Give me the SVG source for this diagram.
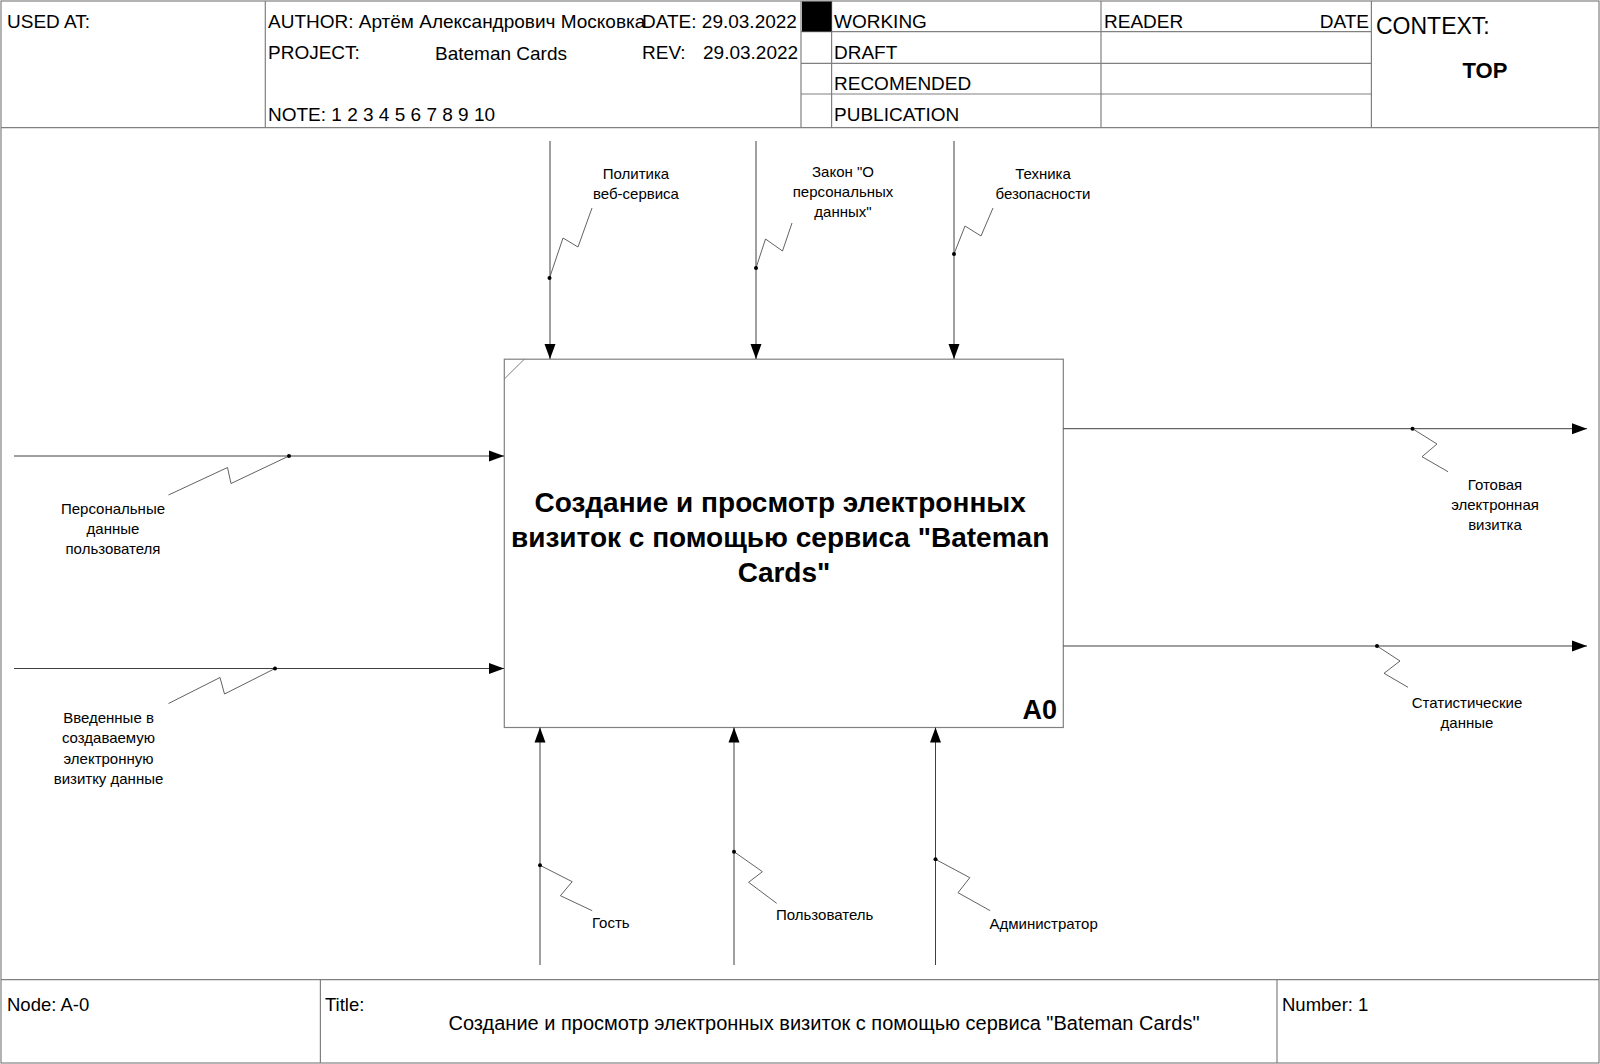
<svg xmlns="http://www.w3.org/2000/svg" width="1600" height="1064" viewBox="0 0 1600 1064">
<style>
  .frame { fill: none; stroke: #808080; stroke-width: 1.2; }
  .t { font-family: "Liberation Sans", Arial, sans-serif; font-size: 19px; fill: #000; }
  .lbl { font-family: "Liberation Sans", Arial, sans-serif; font-size: 15px; fill: #000; text-anchor: middle; }
  .lbl-l { font-family: "Liberation Sans", Arial, sans-serif; font-size: 15px; fill: #000; }
  .arrow { fill: none; stroke: #404040; stroke-width: 1; marker-end: url(#ah); }
  .sq { fill: none; stroke: #505050; stroke-width: 0.9; }
  .dot { fill: #000; }
</style>
<defs>
  <marker id="ah" markerWidth="16" markerHeight="12" refX="15" refY="6" orient="auto" markerUnits="userSpaceOnUse">
    <path d="M0,0.5 L15,6 L0,11.5 Z" fill="#000"/>
  </marker>
</defs>
<rect x="0" y="0" width="1600" height="1064" fill="#fff"/>

<g id="header">
  <rect class="frame" x="1" y="1" width="1598" height="1062"/>
  <line class="frame" x1="1" y1="127.6" x2="1599" y2="127.6"/>
  <line class="frame" x1="265.3" y1="1" x2="265.3" y2="127.6"/>
  <line class="frame" x1="801" y1="1" x2="801" y2="127.6"/>
  <line class="frame" x1="831.6" y1="1" x2="831.6" y2="127.6"/>
  <line class="frame" x1="1101" y1="1" x2="1101" y2="127.6"/>
  <line class="frame" x1="1371.4" y1="1" x2="1371.4" y2="127.6"/>
  <line class="frame" x1="801" y1="31.6" x2="1371.4" y2="31.6"/>
  <line class="frame" x1="801" y1="63.3" x2="1371.4" y2="63.3"/>
  <line class="frame" x1="801" y1="94" x2="1371.4" y2="94"/>
  <rect x="802" y="1.5" width="29.6" height="30" fill="#000"/>
  <text class="t" x="7" y="28">USED AT:</text>
  <text class="t" x="268" y="28">AUTHOR: Артём Александрович Московка</text>
  <text class="t" x="642" y="28">DATE: 29.03.2022</text>
  <text class="t" x="268" y="59">PROJECT:</text>
  <text class="t" x="435" y="60">Bateman Cards</text>
  <text class="t" x="642" y="59">REV:</text>
  <text class="t" x="703" y="59">29.03.2022</text>
  <text class="t" x="268" y="121">NOTE: 1 2 3 4 5 6 7 8 9 10</text>
  <text class="t" x="834" y="28">WORKING</text>
  <text class="t" x="834" y="59">DRAFT</text>
  <text class="t" x="834" y="90">RECOMENDED</text>
  <text class="t" x="834" y="121">PUBLICATION</text>
  <text class="t" x="1104" y="28">READER</text>
  <text class="t" x="1369" y="28" text-anchor="end">DATE</text>
  <text class="t" x="1376" y="34" style="font-size:23px">CONTEXT:</text>
  <text class="t" x="1485" y="78" text-anchor="middle" style="font-size:22px;font-weight:bold">TOP</text>
</g>

<g id="footer">
  <line class="frame" x1="1" y1="979.6" x2="1599" y2="979.6"/>
  <line class="frame" x1="320.4" y1="979.6" x2="320.4" y2="1063"/>
  <line class="frame" x1="1277" y1="979.6" x2="1277" y2="1063"/>
  <text class="t" x="7" y="1011" style="font-size:18.5px">Node: A-0</text>
  <text class="t" x="325" y="1011" style="font-size:18.5px">Title:</text>
  <text class="t" x="824" y="1030" text-anchor="middle" style="font-size:20px">Создание и просмотр электронных визиток с помощью сервиса "Bateman Cards"</text>
  <text class="t" x="1282" y="1011" style="font-size:18.5px">Number: 1</text>
</g>

<g id="node-A0">
  <rect class="frame" x="504.3" y="359.2" width="559" height="368.3"/>
  <line x1="504.3" y1="379" x2="524.3" y2="359.2" stroke="#808080" stroke-width="1"/>
  <text x="784" y="511" text-anchor="middle" style="font-family:'Liberation Sans',Arial,sans-serif;font-size:28px;font-weight:bold">
    <tspan x="784" y="512">Создание и просмотр электронных</tspan>
    <tspan x="784" y="547">визиток с помощью сервиса "Bateman</tspan>
    <tspan x="784" y="582">Cards"</tspan>
  </text>
  <text x="1057" y="719" text-anchor="end" style="font-family:'Liberation Sans',Arial,sans-serif;font-size:27px;font-weight:bold">A0</text>
</g>

<g id="connectors">
  <!-- controls -->
  <line class="arrow" x1="550" y1="141" x2="550" y2="359"/>
  <polyline class="sq" points="549.5,278 563,238 578,247 592,208"/>
  <circle class="dot" cx="549.5" cy="278" r="2"/>
  <text class="lbl"><tspan x="636" y="179">Политика</tspan><tspan x="636" y="199">веб-сервиса</tspan></text>

  <line class="arrow" x1="756" y1="141" x2="756" y2="359"/>
  <polyline class="sq" points="756,268 765.5,239 782.5,251 792,223"/>
  <circle class="dot" cx="756" cy="268" r="2"/>
  <text class="lbl"><tspan x="843" y="177">Закон "О</tspan><tspan x="843" y="197">персональных</tspan><tspan x="843" y="217">данных"</tspan></text>

  <line class="arrow" x1="954" y1="141" x2="954" y2="359"/>
  <polyline class="sq" points="954,254 965,226 981,236 993,208"/>
  <circle class="dot" cx="954" cy="254" r="2"/>
  <text class="lbl"><tspan x="1043" y="179">Техника</tspan><tspan x="1043" y="199">безопасности</tspan></text>

  <!-- inputs -->
  <line class="arrow" x1="14" y1="456" x2="504" y2="456"/>
  <polyline class="sq" points="289,456 231,483.5 227.5,467.5 168.5,495"/>
  <circle class="dot" cx="289" cy="456" r="2"/>
  <text class="lbl"><tspan x="113" y="513.5">Персональные</tspan><tspan x="113" y="533.5">данные</tspan><tspan x="113" y="553.5">пользователя</tspan></text>

  <line class="arrow" x1="14" y1="668.5" x2="504" y2="668.5"/>
  <polyline class="sq" points="275,668.5 224.5,694 220,677.5 168.5,703.5"/>
  <circle class="dot" cx="275" cy="668.5" r="2"/>
  <text class="lbl"><tspan x="108.5" y="722.5">Введенные в</tspan><tspan x="108.5" y="743">создаваемую</tspan><tspan x="108.5" y="763.5">электронную</tspan><tspan x="108.5" y="784">визитку данные</tspan></text>

  <!-- outputs -->
  <line class="arrow" x1="1063.3" y1="428.7" x2="1587" y2="428.7"/>
  <polyline class="sq" points="1412.5,428.7 1437,444 1422,456.7 1448,471.7"/>
  <circle class="dot" cx="1412.5" cy="428.7" r="2"/>
  <text class="lbl"><tspan x="1495" y="489.5">Готовая</tspan><tspan x="1495" y="509.5">электронная</tspan><tspan x="1495" y="529.5">визитка</tspan></text>

  <line class="arrow" x1="1063.3" y1="646" x2="1587" y2="646"/>
  <polyline class="sq" points="1377,646 1400,661 1384,673.3 1408,687.3"/>
  <circle class="dot" cx="1377" cy="646" r="2"/>
  <text class="lbl"><tspan x="1467" y="707.5">Статистические</tspan><tspan x="1467" y="727.5">данные</tspan></text>

  <!-- mechanisms -->
  <line class="arrow" x1="540" y1="965" x2="540" y2="727.5"/>
  <polyline class="sq" points="540,865.3 572.2,881.7 560.4,895.7 592.2,910.7"/>
  <circle class="dot" cx="540" cy="865.3" r="2"/>
  <text class="lbl-l" x="592" y="928">Гость</text>

  <line class="arrow" x1="734" y1="965" x2="734" y2="727.5"/>
  <polyline class="sq" points="734,851.7 762.4,871.7 748.6,882.3 776.7,903.3"/>
  <circle class="dot" cx="734" cy="851.7" r="2"/>
  <text class="lbl-l" x="776" y="920">Пользователь</text>

  <line class="arrow" x1="935.5" y1="965" x2="935.5" y2="727.5"/>
  <polyline class="sq" points="935.5,859.3 969.8,877.7 958,892.7 990.2,910.7"/>
  <circle class="dot" cx="935.5" cy="859.3" r="2"/>
  <text class="lbl-l" x="989.5" y="929">Администратор</text>
</g>
</svg>
